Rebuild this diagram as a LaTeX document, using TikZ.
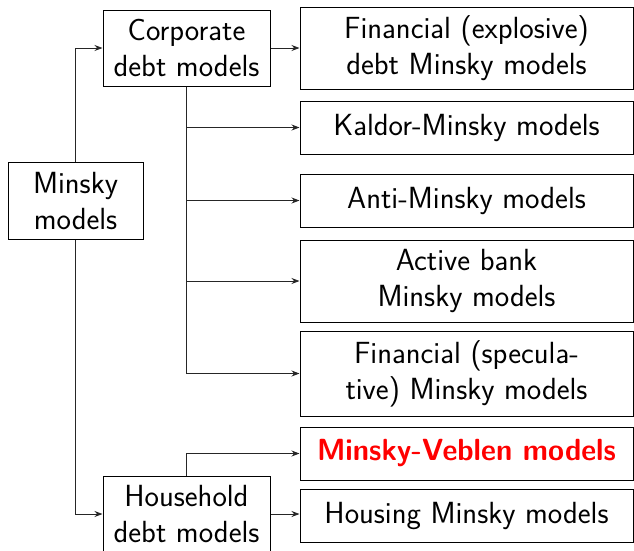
\documentclass[tikz,border=0pt]{standalone}
\usepackage{fontspec}
\usetikzlibrary{arrows.meta}
\begin{document}
\begin{tikzpicture}[x=1pt,y=-1pt,
  box/.style={draw=black,line width=1pt,rectangle,inner sep=0pt,align=center,
    font=\sffamily\fontsize{30.6}{36}\selectfont},
  arr/.style={draw=black!85,line width=0.9pt,-{Stealth[length=8pt,width=6pt]}}]
\useasboundingbox (0,0) rectangle (634,550);
\node[box,minimum width=135pt,minimum height=77pt] (m) at (75.5,200.5) {Minsky\\models};
\node[box,minimum width=167pt,minimum height=76pt] (c) at (186.5,48) {Corporate\\debt models};
\node[box,minimum width=167pt,minimum height=76pt] (h) at (186.5,514) {Household\\debt models};
\node[box,minimum width=333pt,minimum height=82pt] (b1) at (466.5,48) {Financial (explosive)\\debt Minsky models};
\node[box,minimum width=333pt,minimum height=53pt] (b2) at (466.5,127.5) {Kaldor-Minsky models};
\node[box,minimum width=333pt,minimum height=53pt] (b3) at (466.5,200.5) {Anti-Minsky models};
\node[box,minimum width=333pt,minimum height=82pt] (b4) at (466.5,281) {Active bank\\Minsky models};
\node[box,minimum width=333pt,minimum height=85pt] (b5) at (466.5,373.5) {Financial (specula-\\tive) Minsky models};
\node[box,minimum width=333pt,minimum height=53pt] (b6) at (466.5,453.5) {\scalebox{0.95}[1]{\textcolor{red}{\bfseries Minsky-Veblen models}}};
\node[box,minimum width=333pt,minimum height=53pt] (b7) at (466.5,515.5) {Housing Minsky models};
\draw[arr] (m.north) |- (c.west);
\draw[arr] (m.south) |- (h.west);
\draw[arr] (c.east) -- (b1.west);
\draw[arr] (c.south) |- (b2.west);
\draw[arr] (c.south) |- (b3.west);
\draw[arr] (c.south) |- (b4.west);
\draw[arr] (c.south) |- (b5.west);
\draw[arr] (h.north) |- (b6.west);
\draw[arr] (h.east) -- (h.east -| b7.west);
\end{tikzpicture}
\end{document}
